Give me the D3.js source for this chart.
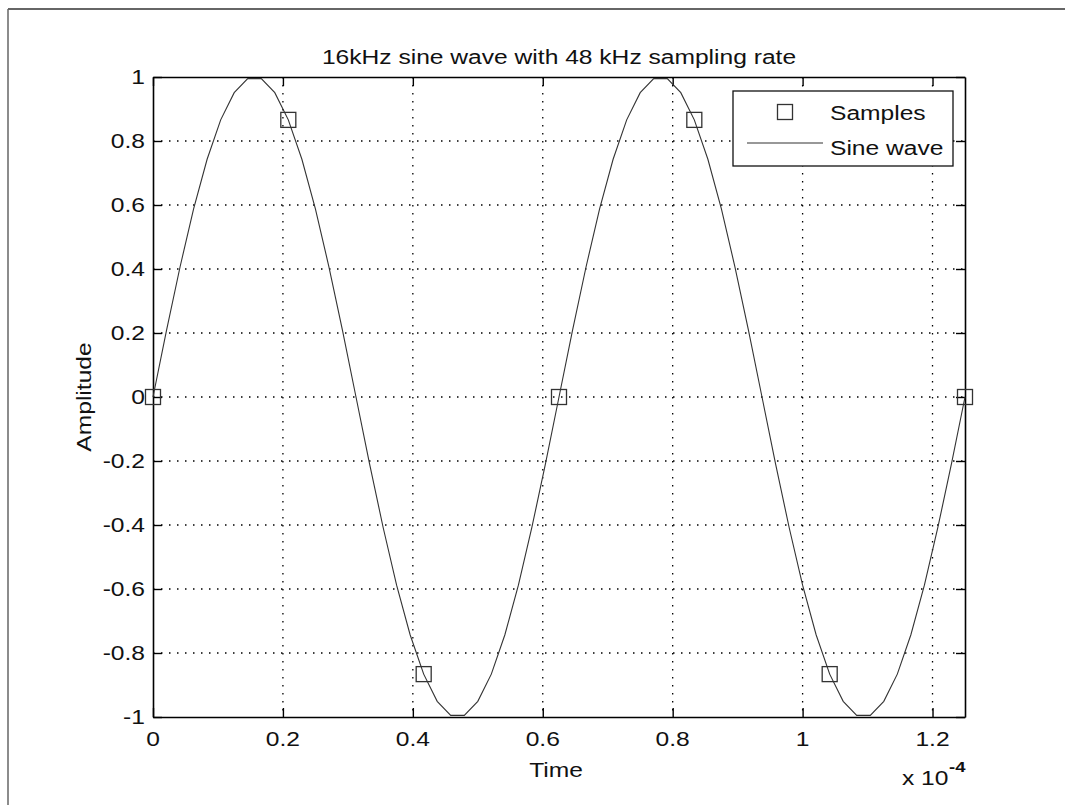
<!DOCTYPE html>
<html><head><meta charset="utf-8">
<script src="https://cdn.jsdelivr.net/npm/d3@7"></script>
<style>body{margin:0;background:#fff}svg{display:block}text{font-family:"Liberation Sans",Arial,Helvetica,sans-serif;fill:#111}</style>
</head><body>
<svg id="c" width="1065" height="805"></svg>
<script>
// time in units of 1e-4 s
const waveTime = [0,0.0208,0.0417,0.0625,0.0833,0.1042,0.1250,0.1458,0.1667,0.1875,0.2083,0.2292,0.2500,0.2708,0.2917,0.3125,0.3333,0.3542,0.3750,0.3958,0.4167,0.4375,0.4583,0.4792,0.5000,0.5208,0.5417,0.5625,0.5833,0.6042,0.6250,0.6458,0.6667,0.6875,0.7083,0.7292,0.7500,0.7708,0.7917,0.8125,0.8333,0.8542,0.8750,0.8958,0.9167,0.9375,0.9583,0.9792,1.0000,1.0208,1.0417,1.0625,1.0833,1.1042,1.1250,1.1458,1.1667,1.1875,1.2083,1.2292,1.2500];
const waveAmp = [0,0.208,0.407,0.588,0.743,0.866,0.951,0.995,0.995,0.951,0.866,0.743,0.588,0.407,0.208,0,-0.208,-0.407,-0.588,-0.743,-0.866,-0.951,-0.995,-0.995,-0.951,-0.866,-0.743,-0.588,-0.407,-0.208,0,0.208,0.407,0.588,0.743,0.866,0.951,0.995,0.995,0.951,0.866,0.743,0.588,0.407,0.208,0,-0.208,-0.407,-0.588,-0.743,-0.866,-0.951,-0.995,-0.995,-0.951,-0.866,-0.743,-0.588,-0.407,-0.208,0];
const sampleTime = [0,0.2083,0.4167,0.6250,0.8333,1.0417,1.2500];
const sampleAmp = [0,0.866,-0.866,0,0.866,-0.866,0];
const xTicks = [0,0.2,0.4,0.6,0.8,1,1.2];
const xTickLabels = ["0","0.2","0.4","0.6","0.8","1","1.2"];
const yTicks = [1,0.8,0.6,0.4,0.2,0,-0.2,-0.4,-0.6,-0.8,-1];
const yTickLabels = ["1","0.8","0.6","0.4","0.2","0","-0.2","-0.4","-0.6","-0.8","-1"];
const titleText = "16kHz sine wave with 48 kHz sampling rate";
const xLabel = "Time", yLabel = "Amplitude";
const legendLabels = ["Samples","Sine wave"];

const svg = d3.select("#c");
const L=153, R=965, T=77, B=717, SX=1.23, FS=20;
const x = d3.scaleLinear().domain([0,1.25]).range([L,R]);
const y = d3.scaleLinear().domain([-1,1]).range([B,T]);

// outer frame
svg.append("line").attr("x1",8).attr("x2",1065).attr("y1",9).attr("y2",9).attr("stroke","#333").attr("stroke-width",1.5);
svg.append("line").attr("x1",8).attr("x2",8).attr("y1",9).attr("y2",805).attr("stroke","#666").attr("stroke-width",1.5);

function txt(g, px, py, s, anchor, size, extra){
  const t = g.append("text").attr("transform",`translate(${px},${py})${extra||""} scale(${SX},1)`)
    .attr("text-anchor",anchor).style("font-size",(size||FS)+"px").text(s);
  return t;
}

// grid
const grid = svg.append("g").attr("stroke","#000").attr("stroke-width",1.3).attr("stroke-dasharray","1.5,6.5");
xTicks.filter(v=>v>0).forEach(v=>grid.append("line").attr("x1",x(v)).attr("x2",x(v)).attr("y1",T).attr("y2",B));
yTicks.filter(v=>v>-1&&v<1).forEach(v=>grid.append("line").attr("x1",L).attr("x2",R).attr("y1",y(v)).attr("y2",y(v)));

// axes with inward ticks
const tl=9;
const xb = svg.append("g").attr("transform",`translate(0,${B})`).call(d3.axisBottom(x).tickValues(xTicks).tickSizeInner(-tl).tickSizeOuter(0).tickFormat(""));
const xt = svg.append("g").attr("transform",`translate(0,${T})`).call(d3.axisTop(x).tickValues(xTicks).tickSizeInner(-tl).tickSizeOuter(0).tickFormat(""));
const yl = svg.append("g").attr("transform",`translate(${L},0)`).call(d3.axisLeft(y).tickValues(yTicks).tickSizeInner(-tl).tickSizeOuter(0).tickFormat(""));
const yr = svg.append("g").attr("transform",`translate(${R},0)`).call(d3.axisRight(y).tickValues(yTicks).tickSizeInner(-tl).tickSizeOuter(0).tickFormat(""));
[xb,xt,yl,yr].forEach(g=>{g.selectAll("path").attr("stroke","#000").attr("stroke-width",1.6);g.selectAll("line").attr("stroke","#000").attr("stroke-width",1.4);});

// tick labels
xTicks.forEach((v,i)=>txt(svg,x(v),B+29,xTickLabels[i],"middle"));
yTicks.forEach((v,i)=>txt(svg,L-8,y(v)+7,yTickLabels[i],"end"));

// wave
svg.append("path").datum(waveTime.map((t,i)=>[t,waveAmp[i]]))
  .attr("d",d3.line().x(d=>x(d[0])).y(d=>y(d[1])))
  .attr("fill","none").attr("stroke","#333").attr("stroke-width",1.1);

// samples
const ms=15;
svg.append("g").selectAll("rect").data(sampleTime.map((t,i)=>[t,sampleAmp[i]])).join("rect")
  .attr("x",d=>x(d[0])-ms/2).attr("y",d=>y(d[1])-ms/2).attr("width",ms).attr("height",ms)
  .attr("fill","none").attr("stroke","#333").attr("stroke-width",1.3);

// title & labels
txt(svg,(L+R)/2,64,titleText,"middle");
txt(svg,556,777,xLabel,"middle");
txt(svg,91,397,yLabel,"middle",FS," rotate(-90)");
txt(svg,902,785,"x 10","start");
txt(svg,949,772,"-4","start",15).style("font-weight","bold");

// legend
const lg = svg.append("g");
lg.append("rect").attr("x",733).attr("y",91).attr("width",220).attr("height",75).attr("fill","#fff").attr("stroke","#111").attr("stroke-width",1.3);
lg.append("rect").attr("x",785-ms/2).attr("y",112-ms/2).attr("width",ms).attr("height",ms).attr("fill","none").attr("stroke","#333").attr("stroke-width",1.3);
lg.append("line").attr("x1",747).attr("x2",823).attr("y1",143).attr("y2",143).attr("stroke","#333").attr("stroke-width",1.1);
txt(lg,830,120,legendLabels[0],"start");
txt(lg,830,155,legendLabels[1],"start");
</script>
</body></html>
